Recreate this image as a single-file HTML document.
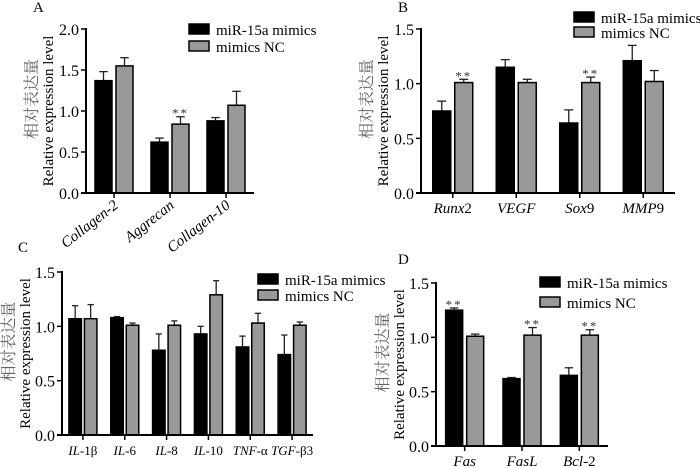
<!DOCTYPE html>
<html><head><meta charset="utf-8"><style>
body{margin:0;background:#fff;}
svg{display:block;font-family:'Liberation Serif','DejaVu Serif','Times New Roman',Times,serif;}
</style></head><body>
<svg id="fig" width="700" height="468" viewBox="0 0 700 468" font-family="Liberation Serif, DejaVu Serif, Times New Roman, serif"></svg>
<script>
const aCats=["Collagen-2","Aggrecan","Collagen-10"];
const aMir=[1.37,0.62,0.88];
const aMirErr=[0.11,0.05,0.04];
const aNc=[1.55,0.84,1.07];
const aNcErr=[0.10,0.09,0.17];
const aTicks=["0.0","0.5","1.0","1.5","2.0"];
const bCats=["Runx2","VEGF","Sox9","MMP9"];
const bMir=[0.75,1.15,0.64,1.21];
const bMirErr=[0.09,0.07,0.12,0.14];
const bNc=[1.01,1.01,1.01,1.02];
const bNcErr=[0.03,0.03,0.05,0.10];
const bTicks=["0.0","0.5","1.0","1.5"];
const cCats=["IL-1β","IL-6","IL-8","IL-10","TNF-α","TGF-β3"];
const cMir=[1.07,1.08,0.78,0.93,0.81,0.74];
const cMirErr=[0.12,0.01,0.15,0.07,0.10,0.18];
const cNc=[1.07,1.01,1.01,1.29,1.03,1.01];
const cNcErr=[0.13,0.02,0.04,0.13,0.09,0.03];
const cTicks=["0.0","0.5","1.0","1.5"];
const dCats=["Fas","FasL","Bcl-2"];
const dMir=[1.25,0.62,0.65];
const dMirErr=[0.02,0.01,0.07];
const dNc=[1.01,1.02,1.02];
const dNcErr=[0.02,0.07,0.05];
const dTicks=["0.0","0.5","1.0","1.5"];
const aStarNc=[false,true,false], aStarMir=[false,false,false];
const bStarNc=[true,false,true,false], bStarMir=[false,false,false,false];
const cStarNc=[false,false,false,false,false,false], cStarMir=[false,false,false,false,false,false];
const dStarNc=[false,true,true], dStarMir=[true,false,false];

const NS="http://www.w3.org/2000/svg";
const SERIF="'Liberation Serif','DejaVu Serif','Times New Roman',serif";
const CJK="'Noto Serif CJK SC','Noto Sans CJK SC',serif";
const svg=document.getElementById('fig');
function mk(tag,attrs,parent,text){const e=document.createElementNS(NS,tag);for(const k in attrs)e.setAttribute(k,attrs[k]);if(tag==='text'&&!attrs['font-family'])e.setAttribute('font-family',SERIF);if(text!==undefined)e.textContent=text;(parent||svg).appendChild(e);return e;}

function panel(o){
  const g=mk('g',{});
  
  
  const ymax=parseFloat(o.ticks[o.ticks.length-1]);
  const y=v=>o.y0-(v/ymax)*(o.y0-o.y1);
  const n=o.cats.length, step=(o.x1-o.x0)/n;
  const cx=i=>o.x0+step*(i+0.5);
  const lt=mk('text',{x:o.lx,y:o.ly,'font-size':15},g,o.id);
  
  for(let i=0;i<n;i++){
    const series=[[o.mir[i],o.mirErr[i],'#000',-1,o.starMir[i]],[o.nc[i],o.ncErr[i],'#999',1,o.starNc[i]]];
    series.forEach(s=>{
      const bx=s[3]<0?cx(i)-o.gap-o.bw:cx(i)+o.gap;
      const ex=bx+o.bw/2;
      const el=mk('line',{x1:ex,x2:ex,y1:y(s[0]),y2:y(s[0]+s[1]),stroke:'#222','stroke-width':1.3},g);
      
      const cap=mk('line',{x1:ex-o.bw*0.25,x2:ex+o.bw*0.25,y1:y(s[0]+s[1]),y2:y(s[0]+s[1]),stroke:'#222','stroke-width':1.3},g);
      
      const r=mk('rect',{x:bx,y:y(s[0]),width:o.bw,height:y(0)-y(s[0]),fill:s[2],stroke:'#000','stroke-width':1.5},g);
      
      
      if(s[4]){const st=mk('text',{x:ex,y:y(s[0]+s[1])+1,'font-size':13,'text-anchor':'middle',fill:'#333','letter-spacing':2},g,'**');
        }
    });
  }
  const ya=mk('line',{x1:o.x0,x2:o.x0,y1:o.y1-1,y2:o.y0,stroke:'#000','stroke-width':2},g);
  
  const xa=mk('line',{x1:o.x0-5,x2:o.x1,y1:o.y0,y2:o.y0,stroke:'#000','stroke-width':2},g);
  
  o.ticks.forEach(t=>{const v=parseFloat(t);
    mk('line',{x1:o.x0-5,x2:o.x0,y1:y(v),y2:y(v),stroke:'#000','stroke-width':1.5},g);
    const tl=mk('text',{x:o.x0-7,y:y(v)+6,'font-size':16,'text-anchor':'end'},g,t);
    });
  for(let i=0;i<n;i++){
    mk('line',{x1:cx(i),x2:cx(i),y1:o.y0,y2:o.y0+5,stroke:'#000','stroke-width':1.5},g);
    const name=o.cats[i];
    const m=name.match(/^([A-Za-z]+)(.*)$/);
    let tx;
    if(o.rot){tx=mk('text',{x:cx(i)+5,y:o.y0+14,'font-size':15,'text-anchor':'end','font-style':'italic',transform:`rotate(-38 ${cx(i)+5} ${o.y0+14})`},g,name);}
    else{tx=mk('text',{x:cx(i),y:o.y0+20,'font-size':o.xfs||15,'text-anchor':'middle'},g);
      mk('tspan',{'font-style':'italic'},tx,m[1]);
      if(m[2])mk('tspan',{},tx,m[2]);}
    
  }
  const ym=(o.y0+o.y1)/2;
  const t1=mk('text',{x:o.tx,y:ym,'font-size':15,'text-anchor':'middle',transform:`rotate(-90 ${o.tx} ${ym})`},g,'Relative expression level');
  
  const t2=mk('text',{x:o.tx-16,y:ym-12,'font-size':16,'text-anchor':'middle',fill:'#666','font-family':CJK,transform:`rotate(-90 ${o.tx-16} ${ym-12})`},g,'相对表达量');
  
  [['miR-15a mimics','#000',0],['mimics NC','#999',1]].forEach(l=>{
    const ly=o.legY+l[2]*o.legGap;
    const lr=mk('rect',{x:o.legX,y:ly,width:20,height:10,fill:l[1],stroke:'#000','stroke-width':1.5},g);
    
    const lt2=mk('text',{x:o.legX+27,y:ly+11,'font-size':15},g,l[0]);
    
  });
}
panel({id:'A',cats:aCats,mir:aMir,mirErr:aMirErr,nc:aNc,ncErr:aNcErr,ticks:aTicks,starMir:aStarMir,starNc:aStarNc,
  x0:86,x1:254,y0:193,y1:29,bw:17,gap:2,rot:true,lx:33,ly:12,tx:53,legX:189,legY:24,legGap:17});
panel({id:'B',cats:bCats,mir:bMir,mirErr:bMirErr,nc:bNc,ncErr:bNcErr,ticks:bTicks,starMir:bStarMir,starNc:bStarNc,
  x0:421,x1:675,y0:193,y1:29,bw:18,gap:2,lx:398,ly:12,tx:388,legX:574,legY:12,legGap:15});
panel({id:'C',cats:cCats,mir:cMir,mirErr:cMirErr,nc:cNc,ncErr:cNcErr,ticks:cTicks,starMir:cStarMir,starNc:cStarNc,
  x0:62,x1:313,y0:435,y1:272,bw:12.5,gap:1.5,xfs:13,lx:18,ly:252,tx:30,legX:258,legY:274,legGap:16});
panel({id:'D',cats:dCats,mir:dMir,mirErr:dMirErr,nc:dNc,ncErr:dNcErr,ticks:dTicks,starMir:dStarMir,starNc:dStarNc,
  x0:436,x1:608,y0:446,y1:283,bw:17,gap:2,lx:398,ly:264,tx:404,legX:540,legY:277,legGap:20});
</script>
</body></html>
